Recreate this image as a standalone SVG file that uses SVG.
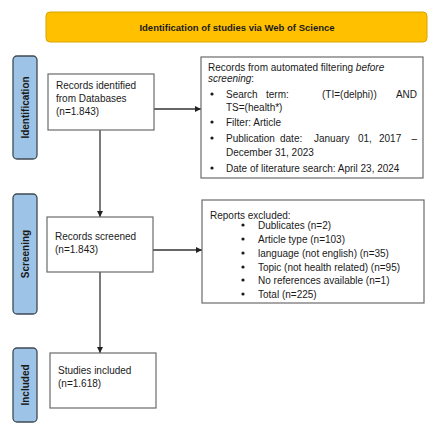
<svg xmlns="http://www.w3.org/2000/svg" width="440" height="435" viewBox="0 0 440 435">
<defs>
<style>
text{font-family:"Liberation Sans",Arial,sans-serif;font-size:10px;fill:#1a1a1a}
.box{fill:#fff;stroke:#6b6b6b;stroke-width:1.2}
.side{fill:#9dc3e6;stroke:#404a55;stroke-width:1.3}
.sidet{font-weight:bold;font-size:10px;text-anchor:middle}
.con{stroke:#333;stroke-width:1.3;fill:none}
.e{text-anchor:end}
</style>
<marker id="ah" viewBox="0 0 10 10" refX="10" refY="5" markerWidth="6" markerHeight="6" orient="auto" markerUnits="userSpaceOnUse"><path d="M0,0L10,5L0,10z" fill="#222"/></marker>
</defs>
<rect width="440" height="435" fill="#fff"/>
<g id="title">
<rect x="46" y="12" width="381" height="30" rx="4" fill="#ffc000" stroke="#d9a400" stroke-width="1"/>
<text x="237" y="30.5" text-anchor="middle" font-weight="bold" style="font-size:9.5px">Identification of studies via Web of Science</text>
</g>
<g id="lbl-identification">
<rect class="side" x="13" y="56" width="24" height="103" rx="4"/>
<text class="sidet" transform="translate(28.5,107.5) rotate(-90)">Identification</text>
</g>
<g id="lbl-screening">
<rect class="side" x="13" y="194" width="24" height="120" rx="4"/>
<text class="sidet" transform="translate(28.5,254) rotate(-90)">Screening</text>
</g>
<g id="lbl-included">
<rect class="side" x="13" y="348" width="24" height="74" rx="4"/>
<text class="sidet" transform="translate(28.5,385) rotate(-90)">Included</text>
</g>
<g id="connectors">
<line class="con" x1="154" y1="109" x2="201" y2="109" marker-end="url(#ah)"/>
<line class="con" x1="100" y1="130" x2="100" y2="217" marker-end="url(#ah)"/>
<line class="con" x1="153" y1="250" x2="202" y2="250" marker-end="url(#ah)"/>
<line class="con" x1="100" y1="272" x2="100" y2="353" marker-end="url(#ah)"/>
</g>
<g id="identified">
<rect class="box" x="48" y="74" width="106" height="56"/>
<text x="56" y="89">Records identified</text>
<text x="56" y="102">from Databases</text>
<text x="56" y="115">(n=1.843)</text>
</g>
<g id="automated">
<rect class="box" x="201" y="57" width="222" height="121"/>
<text x="208" y="71">Records from automated filtering <tspan font-style="italic">before</tspan></text>
<text x="208" y="82" font-style="italic">screening<tspan font-style="normal">:</tspan></text>
<g fill="#1a1a1a"><circle cx="212" cy="94" r="1.6"/><circle cx="212" cy="122" r="1.6"/><circle cx="212" cy="138" r="1.6"/><circle cx="212" cy="168" r="1.6"/></g>
<text x="226" y="97.5">Search</text>
<text x="266" y="97.5">term:</text>
<text x="322" y="97.5">(TI=(delphi))</text>
<text x="417" y="97.5" class="e">AND</text>
<text x="226" y="110.5">TS=(health*)</text>
<text x="226" y="125.5">Filter: Article</text>
<text x="226" y="141.5">Publication</text>
<text x="280" y="141.5">date:</text>
<text x="314" y="141.5">January</text>
<text x="358" y="141.5">01,</text>
<text x="379" y="141.5">2017</text>
<text x="417" y="141.5" class="e">–</text>
<text x="226" y="155.5">December 31, 2023</text>
<text x="226" y="171.5">Date of literature search: April 23, 2024</text>
</g>
<g id="screened">
<rect class="box" x="47" y="217" width="106" height="55"/>
<text x="55" y="240">Records screened</text>
<text x="55" y="253">(n=1.843)</text>
</g>
<g id="excluded">
<rect class="box" x="202" y="200" width="222" height="103"/>
<text x="210" y="219">Reports excluded:</text>
<g fill="#1a1a1a"><circle cx="243" cy="225" r="1.6"/><circle cx="243" cy="239" r="1.6"/><circle cx="243" cy="253" r="1.6"/><circle cx="243" cy="267" r="1.6"/><circle cx="243" cy="280" r="1.6"/><circle cx="243" cy="294" r="1.6"/></g>
<text x="258" y="228.5">Dublicates (n=2)</text>
<text x="258" y="242.5">Article type (n=103)</text>
<text x="258" y="256.5">language (not english) (n=35)</text>
<text x="258" y="270.5">Topic (not health related) (n=95)</text>
<text x="258" y="283.5">No references available (n=1)</text>
<text x="258" y="297.5">Total (n=225)</text>
</g>
<g id="included">
<rect class="box" x="50" y="353" width="106" height="55"/>
<text x="58" y="374">Studies included</text>
<text x="58" y="387">(n=1.618)</text>
</g>
</svg>
